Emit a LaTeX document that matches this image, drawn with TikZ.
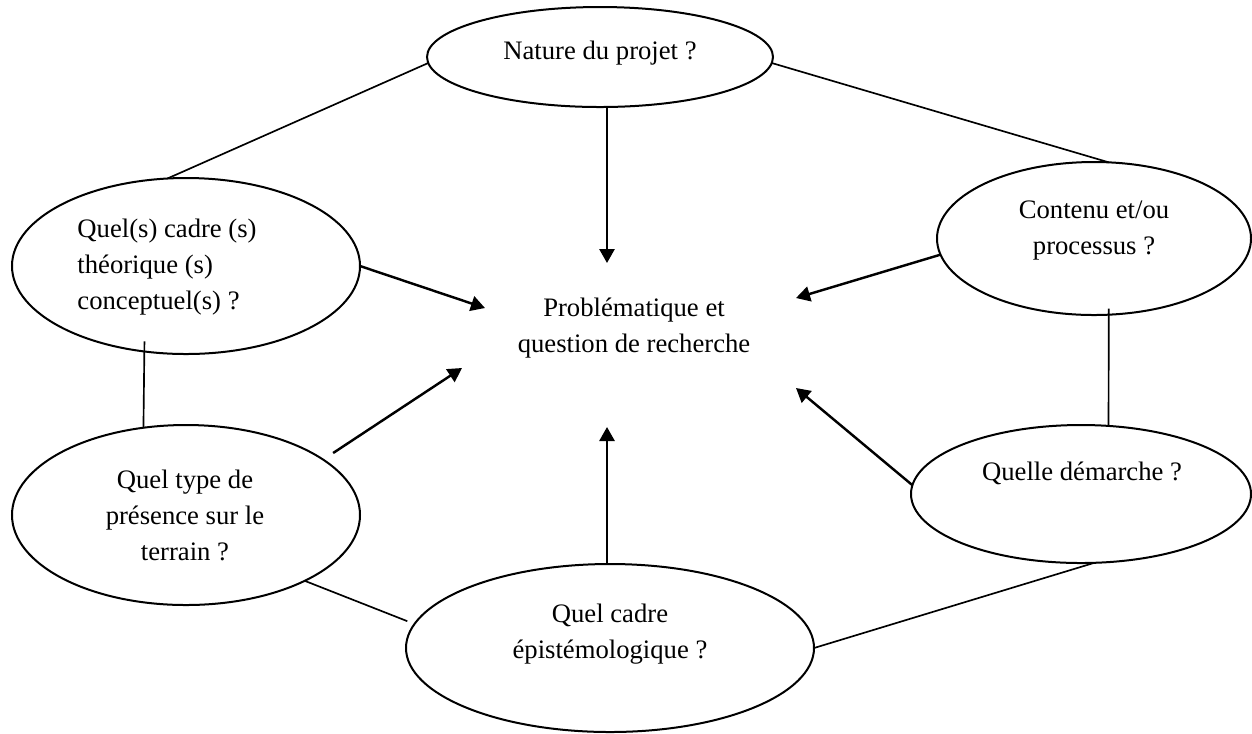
\documentclass[tikz,border=0pt]{standalone}
\usepackage{fontspec}
\setmainfont{Liberation Serif}
\usetikzlibrary{shapes.geometric,arrows.meta}
\begin{document}
\begin{tikzpicture}[x=0.45pt,y=-0.45pt,
  bubble/.style={draw, ellipse, line width=0.9pt, inner sep=0pt, outer sep=0pt},
  txt/.style={inner sep=0pt, font=\fontsize{12pt}{16.2pt}\selectfont, align=center},
  link/.style={line width=0.75pt},
  arr/.style={line width=1.1pt, -{Triangle[length=6.3pt,width=6.8pt]}}]
\useasboundingbox (0,0) rectangle (1252,733);

% ellipses
\node[bubble, minimum width=155.7pt, minimum height=45pt]   (nature)   at (600,57)    {};
\node[bubble, minimum width=141.3pt, minimum height=68.85pt] (contenu) at (1094,238.5) {};
\node[bubble, minimum width=156.6pt, minimum height=79.2pt] (cadre)    at (186,266)   {};
\node[bubble, minimum width=156.6pt, minimum height=81pt]   (type)     at (186,515)   {};
\node[bubble, minimum width=153pt,   minimum height=62.1pt] (demarche) at (1081,494)  {};
\node[bubble, minimum width=183.6pt, minimum height=75.6pt] (epist)    at (610,648)   {};

% texts
\node[txt] (tnature)   at (600,53)   {Nature du projet ?};
\node[txt] (tcontenu)  at (1094,230) {Contenu et/ou\\processus ?};
\node[txt, align=left, anchor=west] (tcadre) at (77,267) {Quel(s) cadre (s)\\théorique (s)\\conceptuel(s) ?};
\node[txt] (ttype)     at (185,515)  {Quel type de\\présence sur le\\terrain ?};
\node[txt] (tdemarche) at (1082,473) {Quelle démarche ?};
\node[txt] (tepist)    at (610,634)  {Quel cadre\\épistémologique ?};
\node[txt] (prob)      at (634,328)  {Problématique et\\question de recherche};

% arrow tips around the central question
\coordinate (tN)  at (607,263);
\coordinate (tUR) at (796,298);
\coordinate (tLR) at (796,388);
\coordinate (tS)  at (607,427);
\coordinate (tUL) at (485,308);
\coordinate (tLL) at (462,368);

% plain links between ellipses
\draw[link] (nature.182) -- (cadre.102);
\draw[link] (nature.358) -- (contenu.79);
\draw[link, shorten <=-4.5pt] (cadre.244.4) -- (type.116.6);
\draw[link, shorten <=-2.7pt] (contenu.281) -- (demarche.68);
\draw[link, shorten >=3.5pt] (type.331.7) -- (epist.173);
\draw[link] (epist.0) -- (demarche.281.3);

% arrows to the central question
\draw[arr] (tN |- nature.south) -- (tN);
\draw[arr] (cadre.east) -- (tUL);
\draw[arr] (contenu.186.8) -- (tUR);
\draw[arr, shorten <=5.4pt] (type.22.9) -- (tLL);
\draw[arr] (demarche.177) -- (tLR);
\draw[arr] (tS |- epist.north) -- (tS);
\end{tikzpicture}
\end{document}
